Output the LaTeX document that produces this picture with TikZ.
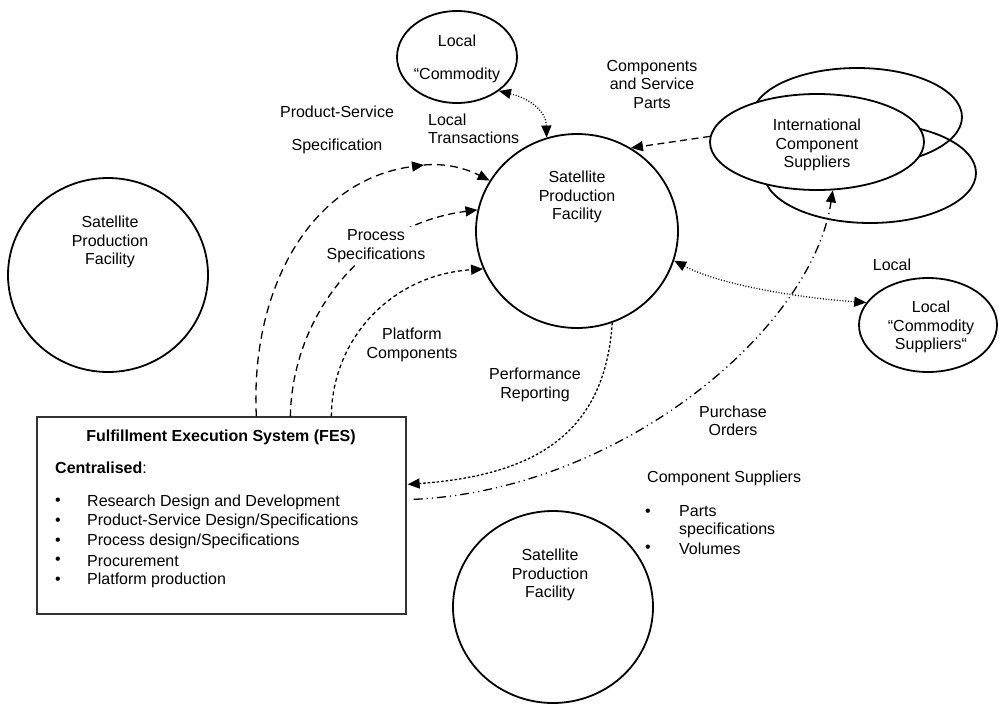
\documentclass[tikz,border=0pt]{standalone}
\usepackage{fontspec}
\setmainfont{Liberation Sans}
\usetikzlibrary{shapes.geometric,arrows.meta,calc}
\newcommand\diagfont{\fontsize{16pt}{18.5pt}\selectfont}
\tikzset{
  every node/.style={font=\diagfont, inner sep=0pt},
  bubble/.style={draw, ellipse, line width=1.8pt},
  conn/.style={line width=1.3pt},
  tip/.style={-{Triangle[length=12pt,width=10pt]}},
  tipboth/.style={{Triangle[length=12pt,width=10pt]}-{Triangle[length=12pt,width=10pt]}},
  longdash/.style={dash pattern=on 8pt off 5pt},
  middash/.style={dash pattern=on 7pt off 4.5pt},
  shortdash/.style={dash pattern=on 4pt off 3pt},
  tinydash/.style={dash pattern=on 2.5pt off 2pt},
  dotline/.style={dash pattern=on 1pt off 1.8pt},
  dashdotdot/.style={dash pattern=on 9pt off 4pt on 1.2pt off 4pt on 1.2pt off 4pt},
  lbl/.style={align=center},
}
\begin{document}
\begin{tikzpicture}[x=1pt,y=-1pt]
\useasboundingbox (0,0) rectangle (999,704);
\fill[white] (0,0) rectangle (999,704);

% production facilities
\node[bubble, minimum width=202pt, minimum height=194pt] (sfMain) at (577,231) {};
\node[lbl] (sfMainText) at (577,197) {Satellite\\Production\\Facility};
\node[bubble, minimum width=200pt, minimum height=194pt] (sfLeft) at (108,275) {};
\node[lbl] (sfLeftText) at (110,242) {Satellite\\Production\\Facility};
\node[bubble, minimum width=200pt, minimum height=192pt] (sfBottom) at (553,607) {};
\node[lbl] (sfBottomText) at (550,575) {Satellite\\Production\\Facility};

% local commodity (top)
\node[bubble, minimum width=120pt, minimum height=92pt] (smallTop) at (457,57) {};
\node[lbl] (smallTopText) at (457,58.5) {Local\\[14.5pt]“Commodity};

% international component suppliers (stacked)
\node[bubble, minimum width=210pt, minimum height=98pt] (intlBackA) at (857,117) {};
\node[bubble, minimum width=212pt, minimum height=100pt] (intlBackB) at (870,173) {};
\node[bubble, fill=white, minimum width=214pt, minimum height=96pt] (intlFront) at (817,142) {};
\node[lbl] (intlText) at (817,145) {International\\Component\\Suppliers};

% local commodity suppliers (right)
\node[bubble, minimum width=138pt, minimum height=94pt] (lcs) at (928,325) {};
\node[lbl] (lcsText) at (931,327) {Local\\“Commodity\\Suppliers“};

% fulfillment execution system
\node[draw=black!80, line width=1.3pt, minimum width=369pt, minimum height=197pt] (fes) at (221.5,515.5) {};
\node (fesTitle) at (221,437) {\bfseries Fulfillment Execution System (FES)};
\node[anchor=west] (fesCentral) at (55,468) {\bfseries Centralised\mdseries:};
\foreach \i/\t in {0/{Research Design and Development},
                   1/{Product-Service Design/Specifications},
                   2/{Process design/Specifications},
                   3/{Procurement},
                   4/{Platform production}}{
  \node[anchor=west] (fesBullet\i) at (55,{502+19.7*\i}) {\textbullet};
  \node[anchor=west] (fesItem\i) at (87,{502+19.7*\i}) {\t};
}

% connector end points on the FES box
\coordinate (psStart) at ($(fes.north west)+(220,0)$);
\coordinate (prStart) at ($(fes.north west)+(254,0)$);
\coordinate (plStart) at ($(fes.north west)+(295,0)$);
\coordinate (perfEnd) at ($(fes.north east)+(1,68)$);
\coordinate (poStart) at ($(fes.north east)+(7,83)$);
\coordinate (psMid) at (424,165);

% product-service specification
\draw[conn, longdash, tip] (psStart) .. controls (250,290) and (310,180) .. (psMid);
\draw[conn, longdash, tip] (psMid) .. controls (445,163) and (465,168) .. (sfMain.150);
% process specifications
\draw[conn, middash, tip] (prStart) .. controls (292,320) and (360,225) .. (sfMain.168);
% platform components
\draw[conn, shortdash, tip] (plStart) .. controls (332,340) and (390,275) .. (sfMain.202);
% performance reporting
\draw[conn, tinydash, tip] (sfMain.291) .. controls (605,430) and (540,475) .. (perfEnd);
% purchase orders
\draw[conn, dashdotdot, tip] (poStart) .. controls (620,490) and (812,330) .. (intlFront.288);
% components and service parts
\draw[conn, middash, tip] (intlFront.177) -- (sfMain.57);
% local transactions
\draw[conn, dotline, tipboth] (smallTop.321) .. controls (528,98) and (546,110) .. (sfMain.108);
\draw[conn, dotline, tipboth] (sfMain.343) .. controls (720,285) and (800,298) .. (lcs.160);

% connector labels
\node[lbl] (psLabel) at (337,129.5) {Product-Service\\[14.5pt]Specification};
\node[lbl, fill=white, inner sep=3pt] (prLabel) at (376,246) {Process\\Specifications};
\node[lbl] (plLabel) at (412,345) {Platform\\Components};
\node[lbl] (perfLabel) at (535,385) {Performance\\Reporting};
\node[lbl] (poLabel) at (733,421) {Purchase\\Orders};
\node[lbl] (csLabel) at (652,84) {Components\\and Service\\Parts};
\node[align=left, anchor=west] (ltLabel) at (428,129) {Local\\Transactions};
\node (localLabel) at (892,265) {Local};

% component suppliers note
\node[anchor=west] (csNote) at (647,478) {Component Suppliers};
\node[anchor=west] (csBullet0) at (645,513) {\textbullet};
\node[anchor=west, align=left] (csItem0) at (679,521.5) {Parts\\specifications};
\node[anchor=west] (csBullet1) at (645,549) {\textbullet};
\node[anchor=west] (csItem1) at (679,549) {Volumes};
\end{tikzpicture}
\end{document}
